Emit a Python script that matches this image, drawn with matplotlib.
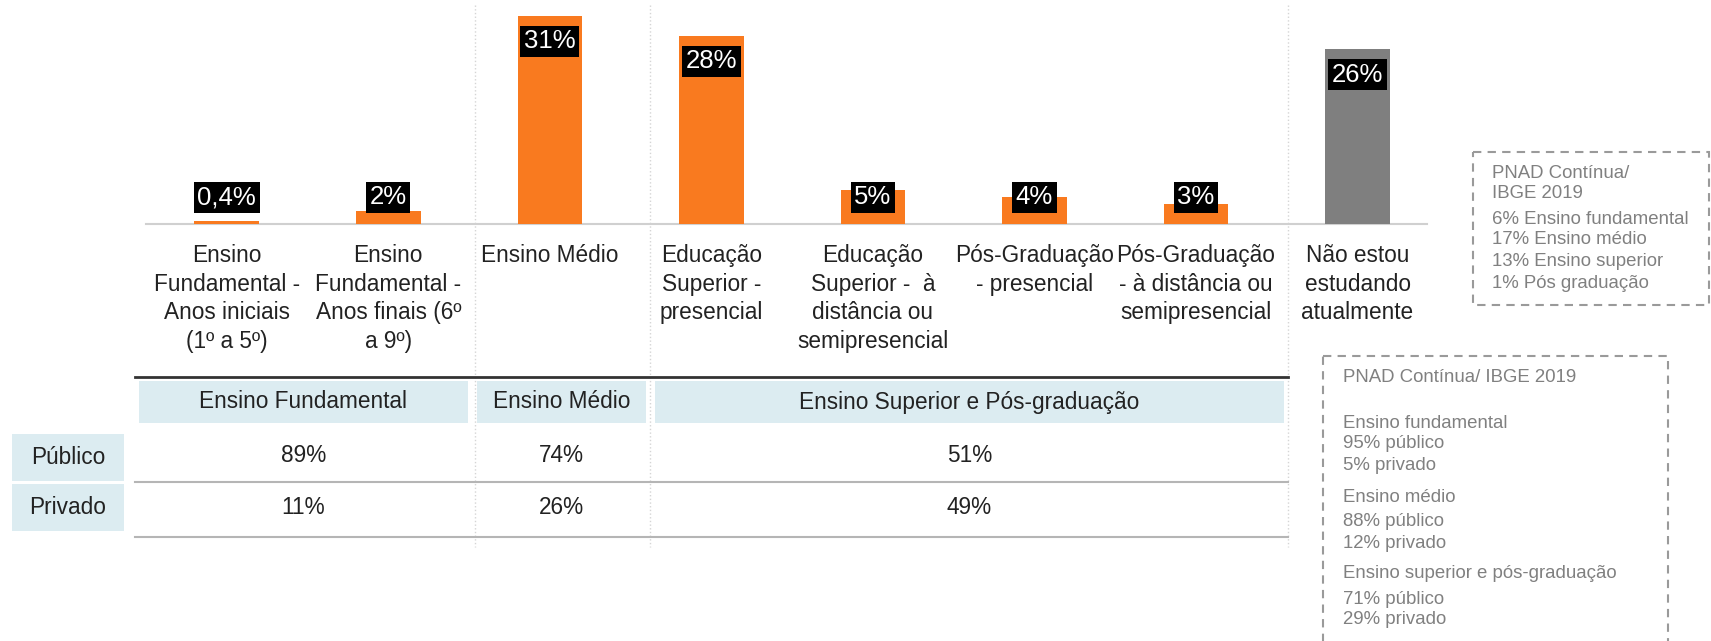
import matplotlib.pyplot as plt
import matplotlib.transforms as mtransforms
from matplotlib.patches import Rectangle

plt.rcParams['font.family'] = ['Liberation Sans', 'DejaVu Sans']

# bar chart data
categories = [
    'Ensino\nFundamental -\nAnos iniciais\n(1º a 5º)',
    'Ensino\nFundamental -\nAnos finais (6º\na 9º)',
    'Ensino Médio',
    'Educação\nSuperior -\npresencial',
    'Educação\nSuperior -  à\ndistância ou\nsemipresencial',
    'Pós-Graduação\n- presencial',
    'Pós-Graduação\n- à distância ou\nsemipresencial',
    'Não estou\nestudando\natualmente',
]
values = [0.4, 2, 31, 28, 5, 4, 3, 26]

# table data
groups = ['Ensino Fundamental', 'Ensino Médio', 'Ensino Superior e Pós-graduação']
row_names = ['Público', 'Privado']
publico = [89, 74, 51]
privado = [11, 26, 49]

# side notes
note1 = ['PNAD Contínua/', 'IBGE 2019', '6% Ensino fundamental',
         '17% Ensino médio', '13% Ensino superior', '1% Pós graduação']
note2 = ['PNAD Contínua/ IBGE 2019', '', 'Ensino fundamental', '95% público',
         '5% privado', 'Ensino médio', '88% público', '12% privado',
         'Ensino superior e pós-graduação', '71% público', '29% privado']

W, H = 1711, 641
ORANGE = '#f97a1f'
GREY_BAR = '#7f7f7f'
CELL = '#dcecf1'
TXT = '#222222'

fig = plt.figure(figsize=(W / 100, H / 100), dpi=100)
bg = fig.add_axes([0, 0, 1, 1])
bg.set_xlim(0, W)
bg.set_ylim(H, 0)
bg.axis('off')

# bar axes placed in pixel space
x0, x1, ytop, ybase = 146, 1427, 5, 224
ax = fig.add_axes([x0 / W, (H - ybase) / H, (x1 - x0) / W, (ybase - ytop) / H])
ax.patch.set_alpha(0)
xs = list(range(len(values)))
colors = [ORANGE] * (len(values) - 1) + [GREY_BAR]
ax.bar(xs, values, width=0.4, color=colors, zorder=3)
ax.set_xlim(-0.5, 7.43)
ax.set_ylim(0, 32.6)
for s in ['top', 'right', 'left']:
    ax.spines[s].set_visible(False)
ax.spines['bottom'].set_color('#d0d0d0')
ax.spines['bottom'].set_linewidth(1.5)
ax.set_xticks([])
ax.set_yticks([])

# value labels: just under the top of tall bars, floating for small ones
for i, v in enumerate(values):
    lab = f'{v:g}'.replace('.', ',') + '%'
    ax.text(i, max(v - 3.8, 4.0), lab, ha='center', va='center', color='white',
            fontsize=18.5, family=['Liberation Sans Narrow', 'Liberation Sans'],
            zorder=5, bbox=dict(facecolor='black', edgecolor='none', pad=2.5))

# category labels: x in category units, y in pixels
blend = mtransforms.blended_transform_factory(ax.transData, bg.transData)
for i, c in enumerate(categories):
    bg.text(i, 244, c, transform=blend, ha='center', va='top', fontsize=16.3,
            color=TXT, linespacing=1.31, multialignment='center')

# dotted separators
for sx in [475, 650, 1288]:
    bg.plot([sx, sx], [5, 547], color='#d5d5d5', lw=1, ls=':', zorder=1)

# table
col_spans = [(139, 468), (477, 646), (655, 1284)]
bg.plot([135, 1288], [377, 377], color='#333333', lw=2)
for (a, b), g in zip(col_spans, groups):
    bg.add_patch(Rectangle((a, 381), b - a, 42, facecolor=CELL, edgecolor='none'))
    bg.text((a + b) / 2, 402, g, ha='center', va='center', fontsize=16.3, color=TXT)

row_y = [458, 508]
for ry, name in zip(row_y, row_names):
    bg.add_patch(Rectangle((12, ry - 24), 112, 47, facecolor=CELL, edgecolor='none'))
    bg.text(68, ry, name, ha='center', va='center', fontsize=16.3, color=TXT)

for (a, b), p, q in zip(col_spans, publico, privado):
    bg.text((a + b) / 2, row_y[0] - 2, f'{p}%', ha='center', va='center', fontsize=16.3, color=TXT)
    bg.text((a + b) / 2, row_y[1], f'{q}%', ha='center', va='center', fontsize=16.3, color=TXT)

bg.plot([135, 1288], [482, 482], color='#b5b5b5', lw=1.5)
bg.plot([135, 1288], [537, 537], color='#b5b5b5', lw=1.5)

# dashed note boxes
dash = (0, (4, 3))
bg.add_patch(Rectangle((1473, 152), 236, 153, fill=False, edgecolor='#9a9a9a',
                       lw=1.5, linestyle=dash))
note1_y = [173, 193, 219, 239, 261, 284]
for ty, t in zip(note1_y, note1):
    bg.text(1492, ty, t, ha='left', va='center', fontsize=13.4, color='#808080')

bg.add_patch(Rectangle((1323, 356), 345, 300, fill=False, edgecolor='#9a9a9a',
                       lw=1.5, linestyle=dash))
note2_y = [378, 400, 423, 443, 465, 498, 522, 543, 574, 599, 620]
for ty, t in zip(note2_y, note2):
    if t:
        bg.text(1343, ty, t, ha='left', va='center', fontsize=13.4, color='#808080')

fig.savefig('out.png', dpi=100)
